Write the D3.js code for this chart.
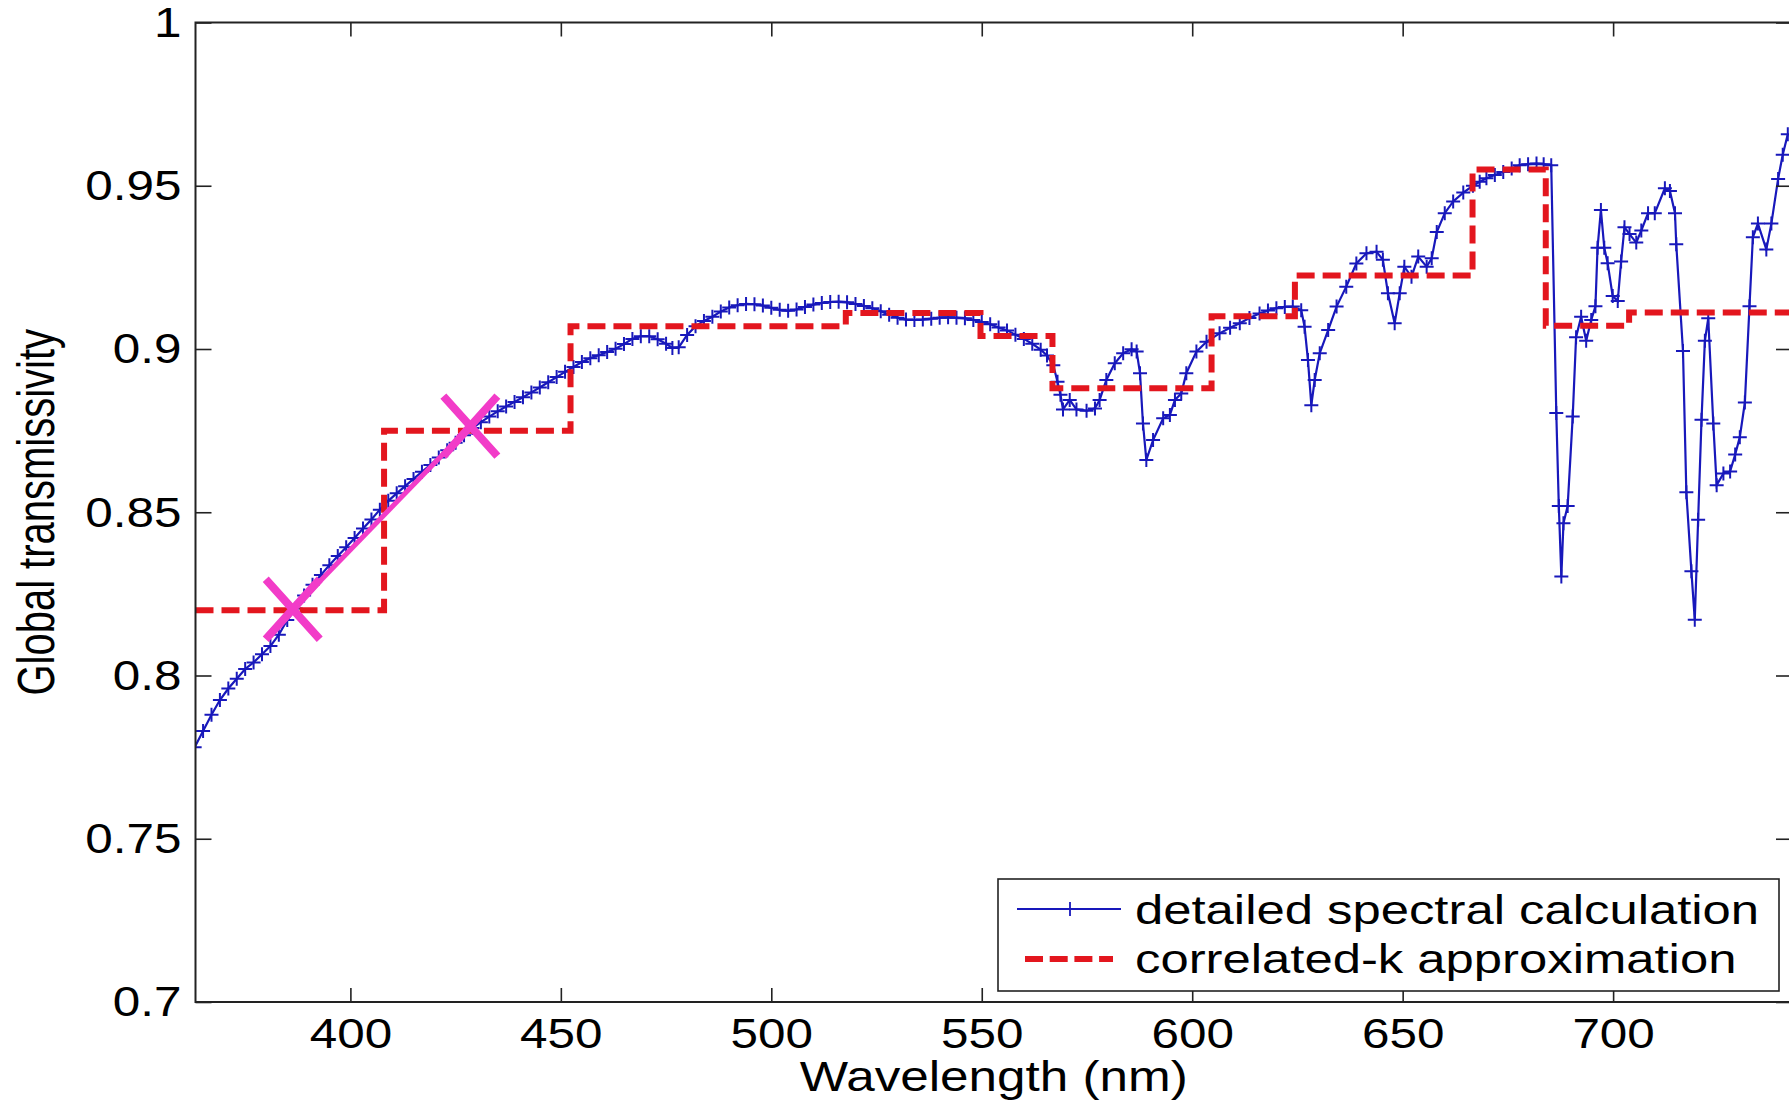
<!DOCTYPE html>
<html lang="en">
<head>
<meta charset="utf-8">
<title>Global transmissivity</title>
<script src="https://cdn.jsdelivr.net/npm/d3@7/dist/d3.min.js"></script>
<style>
    body { margin: 0; background: #fff; }
    #chart text { font-family: "Liberation Sans", Arial, sans-serif; fill: #000; }
</style>
</head>
<body>
<div id="chart"></div>
<script>
    "use strict"

    // detailed spectral calculation
    var detailedWl = [363,365,367,369,371,373,375,377,379,381,383,385,387,389,391,393,395,397,399,401,
        403,405,407,409,411,413,415,417,419,421,423,425,427,429,431,433,435,437,439,441,
        443,445,447,449,451,453,455,457,459,461,463,465,467,469,471,473,475,476.5,478,480,
        482,484,486,488,490,492,494,496,498,500,502,504,506,508,510,512,514,516,518,520,
        522,524,526,528,530,532,534,536,538,540,542,544,546,548,550,552,554,556,558,560,
        562,564,565.5,567,568,568.7,569.3,570.9,572.5,574.9,576.9,578,579.6,581.6,583.6,585.6,586.8,587.6,588.3,589.1,
        590.7,593.1,594.7,595.9,597.4,598.6,601,603.4,606.5,609,611.3,613.6,616,618,620,622,623.9,625.9,626.7,627.5,
        628.3,629.1,630.3,632.3,634.3,636.6,639,641.4,643.8,645.3,646.5,648.1,649.3,650.4,652.1,653.7,655.7,656.9,658.1,660,
        662,664.4,666.7,668.3,669.9,671.9,673.9,675.9,677.8,679.8,681.8,683.5,685.3,686.5,687.1,687.7,688.2,689.2,690.4,691.2,
        692.4,693.6,694.8,695.8,696.3,697.1,697.9,698.7,699.9,701.1,701.9,702.7,703.9,705.5,706.7,708.3,709.9,712.3,713.5,714.7,
        715,716.6,717.4,718.6,719.4,720.2,721,721.8,722.6,723.8,724.6,726.2,727.8,729,730.1,731.3,732.4,733.2,734.4,736.4,
        737.6,739.2,740.3,741.5];
    var detailedT = [0.778,0.783,0.788,0.7925,0.796,0.799,0.802,0.804,0.8065,0.809,0.8125,0.817,0.8205,0.8245,0.8278,0.8308,0.8338,0.8366,0.8393,0.8421,
        0.845,0.8478,0.8508,0.8535,0.8558,0.858,0.8602,0.8624,0.8645,0.8668,0.869,0.8713,0.8736,0.8758,0.8776,0.8793,0.8809,0.8824,0.8838,0.8852,
        0.8867,0.8882,0.8898,0.8914,0.893,0.8945,0.896,0.8972,0.8981,0.8991,0.9001,0.9015,0.9031,0.9039,0.9039,0.903,0.9016,0.9003,0.9005,0.9043,
        0.907,0.9086,0.9099,0.9115,0.9127,0.9134,0.9138,0.9137,0.9133,0.9126,0.912,0.9117,0.9121,0.9129,0.9136,0.9141,0.9144,0.9145,0.9143,0.9138,
        0.9132,0.9125,0.9116,0.9105,0.9096,0.909,0.9089,0.909,0.9093,0.9096,0.9097,0.9096,0.9094,0.9089,0.9083,0.9076,0.9066,0.9057,0.9044,0.9031,
        0.9016,0.8998,0.898,0.895,0.89,0.886,0.8815,0.8844,0.8815,0.8811,0.8818,0.8844,0.8905,0.8956,0.8987,0.8999,0.8992,0.8926,0.8772,0.866,
        0.8721,0.8788,0.8798,0.8844,0.8864,0.8926,0.8992,0.9022,0.9048,0.9065,0.9079,0.9095,0.9109,0.9118,0.9125,0.9129,0.913,0.9119,0.9068,0.8966,
        0.8828,0.8905,0.8987,0.9058,0.913,0.9191,0.9262,0.9293,0.9298,0.9273,0.9171,0.9079,0.9171,0.9252,0.9221,0.9283,0.9252,0.9278,0.9358,0.9416,
        0.9452,0.9479,0.95,0.9512,0.9523,0.9533,0.9542,0.9553,0.9563,0.9566,0.9568,0.9566,0.9563,0.8804,0.8519,0.8303,0.8466,0.8519,0.8793,0.9036,
        0.9099,0.9025,0.9089,0.9131,0.931,0.9426,0.931,0.9263,0.9162,0.9147,0.9268,0.9373,0.9352,0.9326,0.9363,0.9416,0.9416,0.9492,0.9484,0.9416,
        0.9321,0.8994,0.8561,0.8319,0.8171,0.8477,0.8783,0.9025,0.9094,0.8772,0.8583,0.8619,0.8625,0.8677,0.873,0.8836,0.9131,0.9342,0.9384,0.9305,
        0.9384,0.9521,0.9595,0.9658];

    // correlated-k approximation: band edges and band values
    var bandEdges = [363.2, 408.0, 452.3, 517.7, 549.7, 566.8, 604.6, 624.4, 666.6, 684.0, 703.8, 742.5];
    var bandT = [0.820, 0.875, 0.907, 0.911, 0.904, 0.888, 0.910, 0.9225, 0.955, 0.9071, 0.9112];

    // the two marked points
    var markWl = [386.3, 428.5];
    var markT = [0.8203, 0.8764];

    var xTicks = [400, 450, 500, 550, 600, 650, 700];
    var xTickLabels = ["400", "450", "500", "550", "600", "650", "700"];
    var yTicks = [0.7, 0.75, 0.8, 0.85, 0.9, 0.95, 1];
    var yTickLabels = ["0.7", "0.75", "0.8", "0.85", "0.9", "0.95", "1"];

    var legendLabels = ["detailed spectral calculation", "correlated-k approximation"];

    var W = 1789, H = 1101;
    var box = { left: 195.5, right: 1792, top: 22.5, bottom: 1002 };
    var stretch = 1.15;
    var blue = "#1818bb", red = "#e3161e", magenta = "#f23cc8";
    var plusPath = "M-7,0H7M0,-7V7";

    var svg = d3.select("#chart").append("svg")
        .attr("width", W).attr("height", H);

    var x = d3.scaleLinear().domain([363.2, 742.5]).range([box.left, box.right]);
    var y = d3.scaleLinear().domain([0.7, 1]).range([box.bottom, box.top]);

    svg.append("clipPath").attr("id", "plotclip")
        .append("rect")
        .attr("x", box.left).attr("y", box.top)
        .attr("width", box.right - box.left).attr("height", box.bottom - box.top);

    var plot = svg.append("g").attr("clip-path", "url(#plotclip)");

    var detailed = detailedWl.map((w, i) => ({ w: w, t: detailedT[i] }));

    // blue line with + markers
    var line = d3.line().x(d => x(d.w)).y(d => y(d.t));
    plot.append("path")
        .datum(detailed)
        .attr("d", line)
        .attr("fill", "none")
        .attr("stroke", blue)
        .attr("stroke-width", 2.2);

    plot.selectAll("path.plus")
        .data(detailed)
        .enter()
        .append("path")
        .attr("class", "plus")
        .attr("d", plusPath)
        .attr("transform", d => "translate(" + x(d.w) + "," + y(d.t) + ")")
        .attr("stroke", blue)
        .attr("stroke-width", 2)
        .attr("fill", "none");

    // red dashed step
    var steps = bandT.map((t, i) => ({ w: bandEdges[i], t: t }));
    steps.push({ w: bandEdges[bandEdges.length - 1], t: bandT[bandT.length - 1] });
    plot.append("path")
        .datum(steps)
        .attr("d", d3.line().x(d => x(d.w)).y(d => y(d.t)).curve(d3.curveStepAfter))
        .attr("fill", "none")
        .attr("stroke", red)
        .attr("stroke-width", 6)
        .attr("stroke-dasharray", "18,8");

    // magenta marks and the segment between them
    var marks = markWl.map((w, i) => ({ w: w, t: markT[i] }));
    plot.append("path")
        .datum(marks)
        .attr("d", line)
        .attr("stroke", magenta)
        .attr("stroke-width", 5);
    plot.selectAll("path.mark")
        .data(marks)
        .enter()
        .append("path")
        .attr("class", "mark")
        .attr("d", "M-27,-30L27,30M-27,30L27,-30")
        .attr("transform", d => "translate(" + x(d.w) + "," + y(d.t) + ")")
        .attr("stroke", magenta)
        .attr("stroke-width", 8);

    // axes: ticks inside on all four sides
    function styleAxis(g) {
        g.select(".domain").remove();
        g.selectAll("line").attr("stroke", "#222").attr("stroke-width", 1.6);
        g.selectAll("text").attr("font-size", 43);
    }

    svg.append("g")
        .attr("transform", "translate(0," + box.bottom + ")")
        .call(d3.axisBottom(x).tickValues(xTicks).tickFormat((d, i) => xTickLabels[i])
            .tickSizeInner(-14).tickSizeOuter(0).tickPadding(15))
        .call(styleAxis)
        .selectAll("text")
        .attr("transform", "scale(" + stretch + ",1)");

    svg.append("g")
        .attr("transform", "translate(0," + box.top + ")")
        .call(d3.axisTop(x).tickValues(xTicks).tickFormat("").tickSizeInner(-14).tickSizeOuter(0))
        .call(styleAxis);

    svg.append("g")
        .attr("transform", "translate(" + box.left + ",0)")
        .call(d3.axisLeft(y).tickValues(yTicks).tickFormat((d, i) => yTickLabels[i])
            .tickSizeInner(-16).tickSizeOuter(0).tickPadding(14))
        .call(styleAxis)
        .selectAll("text")
        .attr("x", -14 / stretch)
        .attr("transform", "scale(" + stretch + ",1)");

    svg.append("g")
        .attr("transform", "translate(" + box.right + ",0)")
        .call(d3.axisRight(y).tickValues(yTicks).tickFormat("").tickSizeInner(-16).tickSizeOuter(0))
        .call(styleAxis);

    // frame
    svg.append("rect")
        .attr("x", box.left).attr("y", box.top)
        .attr("width", box.right - box.left).attr("height", box.bottom - box.top)
        .attr("fill", "none")
        .attr("stroke", "#222")
        .attr("stroke-width", 2);

    // axis titles
    svg.append("text")
        .attr("transform", "translate(" + ((box.left + box.right) / 2) + ",1091) scale(1.22,1)")
        .attr("text-anchor", "middle")
        .attr("font-size", 42)
        .text("Wavelength (nm)");

    svg.append("text")
        .attr("transform", "translate(54," + ((box.top + box.bottom) / 2) + ") scale(1.3,1) rotate(-90)")
        .attr("text-anchor", "middle")
        .attr("font-size", 40)
        .text("Global transmissivity");

    // legend
    var lg = svg.append("g");
    lg.append("rect")
        .attr("x", 998).attr("y", 879)
        .attr("width", 781).attr("height", 112)
        .attr("fill", "#fff")
        .attr("stroke", "#222")
        .attr("stroke-width", 1.6);

    lg.append("line")
        .attr("x1", 1017).attr("x2", 1121).attr("y1", 909).attr("y2", 909)
        .attr("stroke", blue).attr("stroke-width", 1.8);
    lg.append("path")
        .attr("d", plusPath)
        .attr("transform", "translate(1070,909)")
        .attr("stroke", blue).attr("stroke-width", 1.8);
    lg.append("line")
        .attr("x1", 1025).attr("x2", 1113).attr("y1", 959).attr("y2", 959)
        .attr("stroke", red).attr("stroke-width", 6)
        .attr("stroke-dasharray", "18,6.7");

    lg.selectAll("text.lg")
        .data(legendLabels)
        .enter()
        .append("text")
        .attr("class", "lg")
        .attr("transform", (d, i) => "translate(1135," + (924 + i * 49) + ") scale(1.27,1)")
        .attr("font-size", 40)
        .text(d => d);
</script>
</body>
</html>
